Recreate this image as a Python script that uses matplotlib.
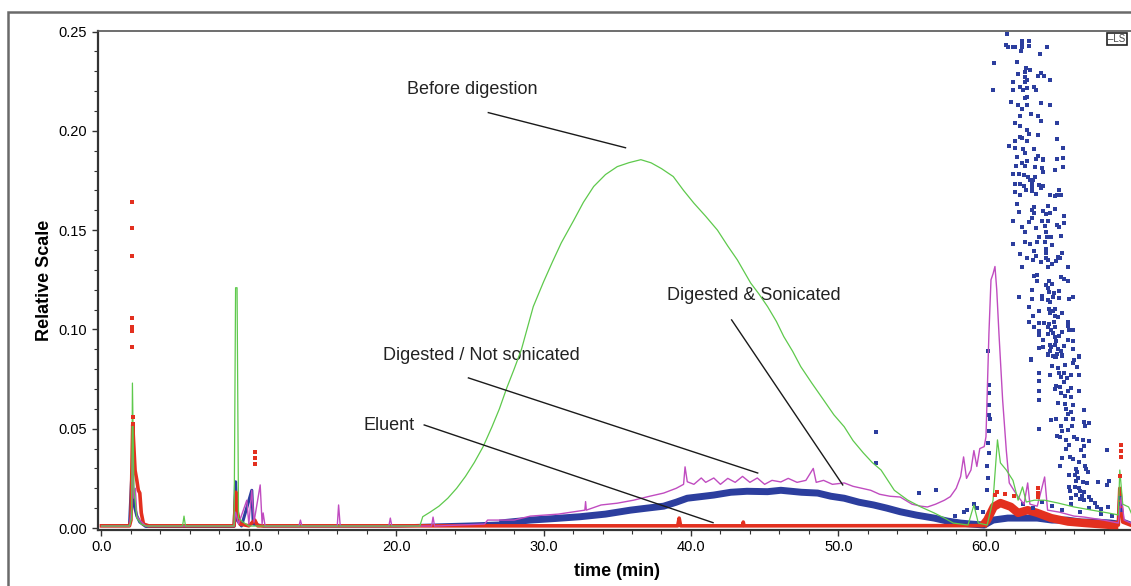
import numpy as np
import matplotlib.pyplot as plt
from matplotlib.patches import Rectangle

# Before digestion (green line)
green_x = [0, 1.9, 2.05, 2.1, 2.2, 2.4, 2.7, 3.0, 5.5, 5.6, 5.7, 9.0, 9.1, 9.2, 9.3, 9.6, 10.0, 21.6,
           21.8, 22.3, 22.9, 23.5, 24.1, 24.7, 25.3, 25.9, 26.5, 27.0, 27.5, 28.0, 28.5, 29.3,
           30.0, 30.6, 31.2, 32.05, 32.7, 33.4, 34.2, 35.0, 35.8, 36.6, 37.3, 38.0, 38.8, 39.5,
           40.2, 41.0, 41.8, 42.5, 43.15, 44.05, 44.6, 45.2, 45.8, 46.3, 46.9, 47.45, 48.2, 49.0,
           49.7, 50.4, 51.0, 51.7, 52.3, 52.9, 53.8, 54.7, 55.6, 56.5, 57.2, 57.8, 58.8, 59.2,
           59.5, 60.1, 60.5, 60.8, 61.0, 61.4, 61.85, 62.2, 62.5, 62.75, 63.3, 64.0, 64.9, 66.0,
           67.2, 68.3, 69.0, 69.1, 69.3, 69.7, 70.0]
green_y = [0.001, 0.001, 0.005, 0.073, 0.02, 0.005, 0.002, 0.001, 0.001, 0.006, 0.001, 0.001, 0.121,
           0.121, 0.005, 0.003, 0.001, 0.001,
           0.0057, 0.008, 0.011, 0.015, 0.020, 0.026, 0.033, 0.041, 0.051, 0.060, 0.0705, 0.080,
           0.090, 0.1115, 0.124, 0.134, 0.1436, 0.155, 0.164, 0.172, 0.178, 0.182, 0.184, 0.1855,
           0.1839, 0.181, 0.177, 0.170, 0.1636, 0.157, 0.150, 0.142, 0.135, 0.1234, 0.118, 0.1115,
           0.104, 0.0964, 0.089, 0.0813, 0.073, 0.0645, 0.057, 0.051, 0.044, 0.0378, 0.033, 0.0292,
           0.019, 0.0141, 0.0106, 0.0076, 0.005, 0.0025, 0.0015, 0.0116, 0.0025, 0.0015, 0.014,
           0.0444, 0.0328, 0.0292, 0.024, 0.014, 0.0207, 0.0131, 0.014, 0.014, 0.0126, 0.0106,
           0.009, 0.0076, 0.0066, 0.0292, 0.012, 0.0106, 0.0055]

# Digested / Not sonicated (magenta line)
mag_x = [0, 1.9, 2.05, 2.12, 2.2, 2.3, 2.4, 2.6, 3.0, 9.0, 9.1, 9.3, 9.86, 10.0, 10.2, 10.35, 10.77,
         10.9, 10.97, 11.1, 13.4, 13.5, 13.6, 16.0, 16.09, 16.2, 19.5, 19.6, 19.7, 22.4, 22.5, 22.6,
         26.0, 26.2, 28.0, 29.1, 31.0, 32.8, 32.85, 32.9, 33.9, 35.0, 36.1, 37.2, 38.15, 39.0, 39.5,
         39.6, 39.75, 40.2, 40.7, 41.0, 41.55, 42.0, 42.5, 43.0, 43.5, 44.0, 44.5, 45.0, 45.5, 46.1,
         46.6, 47.2, 47.8, 48.3, 48.5, 49.0, 49.6, 50.4, 51.0, 51.6, 52.2, 52.8, 53.5, 54.2, 55.0,
         55.6, 56.05, 56.6, 57.2, 57.6, 58.0, 58.3, 58.5, 58.7, 59.0, 59.2, 59.4, 59.6, 59.9, 60.02,
         60.22, 60.36, 60.5, 60.63, 60.75, 60.9, 61.15, 61.4, 61.6, 62.0, 62.2, 62.6, 62.85, 63.0,
         63.5, 64.0, 64.2, 65.0, 66.0, 66.7, 68.0, 69.0, 69.2, 69.4, 70.0]
mag_y = [0.001, 0.001, 0.01, 0.042, 0.015, 0.02, 0.006, 0.004, 0.001, 0.001, 0.008, 0.002, 0.014,
         0.002, 0.019, 0.003, 0.0217, 0.002, 0.0076, 0.001, 0.001, 0.004, 0.001, 0.001, 0.0116,
         0.001, 0.001, 0.005, 0.001, 0.001, 0.0055, 0.001, 0.002, 0.004, 0.004, 0.006, 0.007, 0.009,
         0.0133, 0.009, 0.0116, 0.0125, 0.014, 0.016, 0.0176, 0.020, 0.022, 0.0308, 0.0233, 0.022,
         0.0252, 0.023, 0.0252, 0.022, 0.025, 0.023, 0.026, 0.023, 0.0252, 0.022, 0.024, 0.0232,
         0.025, 0.023, 0.024, 0.030, 0.023, 0.024, 0.022, 0.0227, 0.021, 0.020, 0.019, 0.017, 0.016,
         0.0156, 0.012, 0.011, 0.0106, 0.012, 0.014, 0.0158, 0.02, 0.0259, 0.0358, 0.025, 0.0292,
         0.039, 0.031, 0.04, 0.041, 0.046, 0.098, 0.125, 0.128, 0.1317, 0.12, 0.098, 0.0645, 0.039,
         0.0227, 0.018, 0.0158, 0.012, 0.0227, 0.012, 0.011, 0.0257, 0.009, 0.008, 0.006, 0.0055,
         0.004, 0.0025, 0.0156, 0.004, 0.002]

# Digested & Sonicated (blue points, dense band)
blue_x = [0, 1.9, 2.05, 2.2, 2.4, 2.6, 3.0, 9.0, 9.1, 9.2, 9.5, 10.2, 10.3, 11, 20, 25, 27, 29.1,
          30.8, 32.5, 34.2, 35.9, 37.0, 38.15, 39.0, 39.75, 40.66, 41.55, 42.7, 43.8, 45.2, 46.1,
          47.5, 48.6, 49.5, 50.4, 51.4, 52.4, 53.3, 54.2, 55.3, 56.5, 57.4, 58.3, 59.0, 59.9, 60.5,
          61.5, 62.5, 63.5, 64.5, 65.5, 66.5, 67.5, 68.5, 69.0, 69.1, 69.3, 70]
blue_y = [0.0012, 0.0012, 0.026, 0.012, 0.006, 0.003, 0.0008, 0.0008, 0.0233, 0.004, 0.001, 0.019,
          0.002, 0.001, 0.001, 0.002, 0.0025, 0.004, 0.0048, 0.0057, 0.007, 0.009, 0.010, 0.011,
          0.013, 0.015, 0.0158, 0.0166, 0.018, 0.0185, 0.0183, 0.019, 0.018, 0.0176, 0.016, 0.015,
          0.013, 0.0116, 0.010, 0.0082, 0.0065, 0.005, 0.0035, 0.0025, 0.002, 0.0015, 0.004, 0.005,
          0.005, 0.005, 0.004, 0.004, 0.003, 0.003, 0.0025, 0.002, 0.018, 0.004, 0.002]

# Digested & Sonicated, scattered points of the late peak
cloud_x = [61.44, 62.44, 62.92, 62.44, 62.44, 61.40, 61.49, 61.85, 61.97, 62.92, 64.14, 62.37, 63.66,
           60.54, 62.10, 62.71, 62.98, 62.64, 63.73, 62.17, 63.53, 63.94, 62.67, 62.80, 62.64, 64.34,
           61.83, 62.30, 63.26, 62.78, 60.47, 61.83, 62.51, 63.39, 62.78, 62.64, 61.74, 63.73, 62.17,
           62.78, 64.34, 62.44, 63.05, 62.30, 63.53, 63.73, 61.97, 62.30, 64.82, 62.78, 62.92, 63.53,
           62.30, 62.44, 64.82, 61.97, 62.78, 61.56, 61.97, 62.51, 63.26, 65.23, 62.64, 63.53, 62.10,
           62.78, 63.39, 63.87, 64.82, 65.23, 62.44, 63.87, 62.03, 62.64, 63.32, 63.80, 65.23, 64.68,
           63.87, 61.83, 62.24, 62.58, 62.85, 63.32, 62.98, 63.19, 63.12, 61.97, 62.30, 62.58, 63.12,
           63.60, 63.87, 63.12, 63.73, 62.71, 64.95, 61.97, 63.12, 62.30, 63.39, 64.34, 64.68, 65.09,
           61.97, 62.30, 62.71, 63.39, 64.34, 64.82, 62.10, 63.26, 64.21, 63.12, 63.87, 64.68, 62.24,
           63.26, 64.07, 64.34, 63.12, 65.29, 61.83, 62.92, 63.80, 64.21, 65.29, 64.82, 62.44, 63.39,
           64.00, 64.95, 62.64, 64.07, 63.62, 64.14, 64.41, 65.09, 61.83, 62.64, 62.98, 63.46, 64.00,
           64.48, 64.07, 63.26, 64.07, 65.16, 62.30, 63.39, 62.78, 64.07, 64.89, 65.02, 63.19, 64.21,
           63.73, 64.75, 64.48, 64.21, 62.44, 65.57, 63.46, 63.26, 65.09, 65.29, 65.57, 63.46, 64.27,
           64.48, 64.07, 64.21, 63.12, 64.27, 64.95, 64.61, 62.24, 63.12, 63.80, 63.80, 64.21, 64.55,
           64.95, 65.63, 65.91, 64.34, 62.92, 64.27, 64.68, 63.60, 64.55, 65.16, 64.34, 63.19, 64.68,
           64.89, 62.92, 63.60, 63.94, 64.27, 64.61, 65.57, 64.21, 64.68, 63.26, 63.60, 64.41, 65.57,
           65.63, 65.91, 63.60, 64.21, 64.55, 65.16, 64.68, 64.95, 63.87, 65.57, 65.91, 64.75, 64.34,
           64.68, 65.29, 63.60, 63.87, 64.41, 64.89, 65.91, 64.34, 65.09, 64.21, 64.82, 65.16, 66.31,
           64.68, 63.05,
           63.05, 63.60, 63.60, 63.60, 63.60, 63.60, 64.21, 64.55, 64.75, 65.09, 65.16, 65.97, 66.31,
           65.91, 66.18, 64.48, 64.89, 65.36, 65.29, 65.77, 66.31, 64.34, 64.95, 65.09, 65.50, 65.29,
           64.75, 65.02, 65.77, 64.68, 65.09, 65.57, 66.31, 65.36, 65.77, 64.89, 65.36, 65.91, 65.43,
           65.77, 65.57, 66.65, 64.41, 64.75, 65.43, 65.91, 66.65, 66.99, 65.09, 65.57, 65.84, 65.16,
           66.72, 64.82, 65.02, 65.97, 66.18, 66.58, 66.99, 65.43, 65.63, 66.65, 65.43, 66.45, 65.16,
           65.70, 65.91, 66.65, 66.31, 65.02, 66.72, 66.11, 66.79, 66.18, 66.92, 65.63, 66.04, 66.25,
           66.11, 66.58, 66.86, 65.63, 66.04, 66.31, 65.70, 66.38, 66.65, 66.11, 66.52, 66.99, 65.77,
           66.38, 66.65, 67.13, 68.22, 67.60, 68.22, 68.35, 67.40, 67.54, 67.81, 68.28,
           60.13, 60.20, 60.22, 60.25, 60.20, 60.30, 60.20, 60.15, 60.20, 60.10, 60.15, 60.10, 59.40,
           59.20, 58.50, 57.90, 52.55, 52.55, 55.50, 56.60, 58.70, 59.80, 62.50, 63.20, 63.80, 64.50,
           65.20, 65.80, 66.40, 67.00, 67.80, 68.60, 69.10, 69.15, 69.20]
cloud_y = [0.2486, 0.2455, 0.2451, 0.2438, 0.2423, 0.2431, 0.2421, 0.2421, 0.2421, 0.2426, 0.2421,
           0.2404, 0.2386, 0.2340, 0.2345, 0.2318, 0.2305, 0.2295, 0.2290, 0.2285, 0.2275, 0.2275,
           0.2270, 0.2258, 0.2248, 0.2255, 0.2245, 0.2223, 0.2223, 0.2218, 0.2208, 0.2204, 0.2204,
           0.2208, 0.2172, 0.2164, 0.2144, 0.2139, 0.2129, 0.2129, 0.2129, 0.2108, 0.2083, 0.2077,
           0.2073, 0.2048, 0.2038, 0.2026, 0.2038, 0.2003, 0.1982, 0.1979, 0.1971, 0.1966, 0.1957,
           0.1947, 0.1947, 0.1922, 0.1912, 0.1907, 0.1908, 0.1912, 0.1887, 0.1872, 0.1866, 0.1846,
           0.1856, 0.1856, 0.1856, 0.1861, 0.1836, 0.1851, 0.1821, 0.1821, 0.1816, 0.1811, 0.1816,
           0.1801, 0.1791, 0.1781, 0.1781, 0.1776, 0.1766, 0.1766, 0.1751, 0.1751, 0.1740, 0.1730,
           0.1730, 0.1720, 0.1725, 0.1729, 0.1720, 0.1710, 0.1710, 0.1700, 0.1700, 0.1690, 0.1695,
           0.1675, 0.1680, 0.1675, 0.1670, 0.1675,
           0.1691, 0.1675, 0.1701, 0.1680, 0.1675, 0.1675, 0.1630, 0.1615, 0.1620, 0.1600, 0.1595,
           0.1605, 0.1590, 0.1585, 0.1580, 0.1585, 0.1560, 0.1570, 0.1544, 0.1539, 0.1544, 0.1544,
           0.1534, 0.1524, 0.1514, 0.1509, 0.1519, 0.1514, 0.1489, 0.1489, 0.1464, 0.1464, 0.1464,
           0.1469, 0.1428, 0.1439, 0.1428, 0.1439, 0.1439, 0.1423, 0.1403, 0.1393, 0.1383, 0.1383,
           0.1378, 0.1368, 0.1358, 0.1358, 0.1363, 0.1358, 0.1348, 0.1348, 0.1338, 0.1343, 0.1328,
           0.1313, 0.1313, 0.1313, 0.1272, 0.1267, 0.1262, 0.1252, 0.1242, 0.1242, 0.1242, 0.1227,
           0.1222, 0.1207, 0.1197, 0.1187, 0.1192, 0.1182, 0.1161, 0.1151, 0.1166, 0.1151, 0.1146,
           0.1161, 0.1156, 0.1151, 0.1161, 0.1136, 0.1111, 0.1101, 0.1101, 0.1091, 0.1091, 0.1081,
           0.1081, 0.1066, 0.1066, 0.1061, 0.1040, 0.1030, 0.1030, 0.1025, 0.1035, 0.1040, 0.1010,
           0.1010, 0.1010, 0.0990, 0.0995, 0.1015, 0.0995, 0.0995, 0.0970, 0.0975, 0.0980, 0.0985,
           0.0960, 0.0965, 0.0945, 0.0945, 0.0940, 0.0940, 0.0924, 0.0924, 0.0919, 0.0909, 0.0914,
           0.0914, 0.0904, 0.0904, 0.0889, 0.0889, 0.0874, 0.0874, 0.0869, 0.0864, 0.0859, 0.0849,
           0.0848, 0.0783, 0.0742, 0.0692, 0.0647, 0.0501, 0.0873, 0.0868, 0.0863, 0.0889, 0.0868,
           0.0848, 0.0863, 0.0833, 0.0813, 0.0818, 0.0808, 0.0823, 0.0783, 0.0773, 0.0773, 0.0773,
           0.0783, 0.0763, 0.0753, 0.0737, 0.0717, 0.0712, 0.0707, 0.0702, 0.0682, 0.0692, 0.0692,
           0.0667, 0.0662, 0.0632, 0.0627, 0.0621, 0.0601, 0.0586, 0.0576, 0.0596, 0.0546, 0.0551,
           0.0551, 0.0551, 0.0536, 0.0531, 0.0516, 0.0495, 0.0516, 0.0490, 0.0516, 0.0465, 0.0460,
           0.0460, 0.0450, 0.0445, 0.0440, 0.0445, 0.0420, 0.0415, 0.0400, 0.0395, 0.0354, 0.0359,
           0.0349, 0.0364, 0.0334, 0.0314, 0.0314, 0.0299, 0.0299, 0.0284, 0.0284, 0.0269, 0.0269,
           0.0254, 0.0238, 0.0233, 0.0228, 0.0208, 0.0208, 0.0203, 0.0188, 0.0188, 0.0183, 0.0168,
           0.0163, 0.0158, 0.0153, 0.0148, 0.0143, 0.0143, 0.0395, 0.0233, 0.0218, 0.0238, 0.0128,
           0.0107, 0.0097, 0.0107,
           0.0889, 0.072, 0.068, 0.062, 0.057, 0.055, 0.049, 0.043, 0.038, 0.031, 0.025, 0.019, 0.010,
           0.012, 0.008, 0.006, 0.0485, 0.0327, 0.0178, 0.019, 0.009, 0.008, 0.012, 0.010, 0.013,
           0.011, 0.009, 0.012, 0.008, 0.010, 0.007, 0.006, 0.015, 0.012, 0.009]

# Eluent (red points, dense band)
red_x = [0, 1.9, 2.0, 2.12, 2.28, 2.4, 2.5, 2.6, 2.7, 2.85, 3.2, 9.0, 9.12, 9.2, 9.4, 10.0, 10.4,
         10.6, 39.1, 39.2, 39.3, 43.5, 43.55, 43.6, 59.8, 60.1, 60.55, 61.0, 61.7, 62.2, 62.85, 63.5,
         64.45, 65.6, 66.7, 68.5, 69.0, 69.1, 69.3, 70]
red_y = [0.0011, 0.0011, 0.004, 0.052, 0.029, 0.024, 0.019, 0.0176, 0.0076, 0.002, 0.0011, 0.0011,
         0.018, 0.0086, 0.002, 0.0011, 0.004, 0.0011, 0.0011, 0.005, 0.0011, 0.0011, 0.003, 0.0011,
         0.0012, 0.004, 0.0107, 0.0126, 0.0107, 0.0076, 0.009, 0.0076, 0.005, 0.0032, 0.0025, 0.0015,
         0.0015, 0.02, 0.003, 0.001]
red_pts_x = [2.08, 2.08, 2.08, 2.08, 2.08, 2.08, 2.08, 2.16, 2.12, 10.45, 10.45, 10.45, 63.55, 63.55,
             63.55, 69.2, 69.2, 69.2, 69.1, 60.8, 61.3, 61.9, 60.6]
red_pts_y = [0.164, 0.151, 0.137, 0.106, 0.101, 0.099, 0.091, 0.056, 0.0524, 0.0385, 0.0353, 0.0324,
             0.020, 0.0178, 0.0158, 0.042, 0.039, 0.0358, 0.026, 0.018, 0.017, 0.016, 0.0165]

# annotations: label, text position, line start, line end
labels = ['Before digestion', 'Digested & Sonicated', 'Digested / Not sonicated', 'Eluent']
label_pos = [(20.75, 0.2208), (38.4, 0.117), (19.1, 0.0867), (17.76, 0.0514)]
line_start = [(26.25, 0.2092), (42.76, 0.1048), (24.9, 0.0756), (21.9, 0.0519)]
line_end = [(35.56, 0.1915), (50.3, 0.0217), (44.53, 0.0277), (41.5, 0.0027)]

GREEN = '#5ec94c'
MAGENTA = '#c04cc0'
BLUE = '#2c3e9e'
RED = '#e3301f'


def main():
    plt.rcParams['font.family'] = ['Liberation Sans', 'DejaVu Sans']
    fig = plt.figure(figsize=(11.31, 5.86), dpi=100)
    ax = fig.add_axes([97.5 / 1131, 56 / 586, (1136 - 97.5) / 1131, 499 / 586])

    # outer frame of the original window
    fig.patches.append(Rectangle((8 / 1131, -0.1), 1.2, 0.1 + 574 / 586, transform=fig.transFigure,
                                 fill=False, ec='#6a6a6a', lw=1.8, zorder=0))

    # thin traces for the baseline and spikes, thick noisy band where the data is dense
    ax.plot(blue_x, blue_y, color=BLUE, lw=2.2, zorder=2)
    ax.plot(blue_x[16:-3], blue_y[16:-3], color=BLUE, lw=5.0, solid_capstyle='butt', zorder=2)
    ax.plot(red_x, red_y, color=RED, lw=2.6, zorder=3)
    ax.plot(red_x[24:37], red_y[24:37], color=RED, lw=6.0, solid_capstyle='butt', zorder=3)
    ax.plot(mag_x, mag_y, color=MAGENTA, lw=1.0, zorder=4)
    ax.plot(green_x, green_y, color=GREEN, lw=0.9, zorder=5)
    ax.plot(cloud_x, cloud_y, 's', color=BLUE, ms=2.7, mew=0, zorder=3)
    ax.plot(red_pts_x, red_pts_y, 's', color=RED, ms=2.7, mew=0, zorder=6)

    for lab, pos, p0, p1 in zip(labels, label_pos, line_start, line_end):
        ax.text(pos[0], pos[1], lab, fontsize=13, va='center', ha='left', color='#222222')
        ax.plot([p0[0], p1[0]], [p0[1], p1[1]], color='#1a1a1a', lw=1.0, zorder=7)

    ax.set_xlim(-0.27, 70.2)
    ax.set_ylim(-0.001, 0.2503)
    ax.set_xticks(np.arange(0, 61, 10))
    ax.set_xticklabels(['%.1f' % v for v in np.arange(0, 61, 10)])
    ax.set_xticks(np.arange(0, 71, 2), minor=True)
    ax.set_yticks(np.arange(0, 0.26, 0.05))
    ax.set_yticklabels(['%.2f' % v for v in np.arange(0, 0.26, 0.05)])
    ax.set_yticks(np.arange(0, 0.251, 0.01), minor=True)
    ax.tick_params(which='major', length=4, width=1, labelsize=10.5, color='#333333')
    ax.tick_params(which='minor', length=3, width=0.8, color='#333333')
    ax.spines['right'].set_visible(False)
    for s in ['left', 'bottom']:
        ax.spines[s].set_linewidth(1.6)
        ax.spines[s].set_color('#333333')
    ax.spines['top'].set_linewidth(1.2)
    ax.spines['top'].set_color('#555555')

    ax.set_xlabel('time (min)', fontsize=13, fontweight='bold', labelpad=6)
    ax.set_ylabel('Relative Scale', fontsize=13, fontweight='bold', labelpad=4)

    fig.text(1117 / 1131, 1 - 39 / 586, '\u2013LS', fontsize=7, color='#444444', ha='center',
             va='center', bbox=dict(boxstyle='square,pad=0.15', fc='white', ec='#222222', lw=1.2))

    fig.savefig('out.png', dpi=100)


if __name__ == '__main__':
    main()
